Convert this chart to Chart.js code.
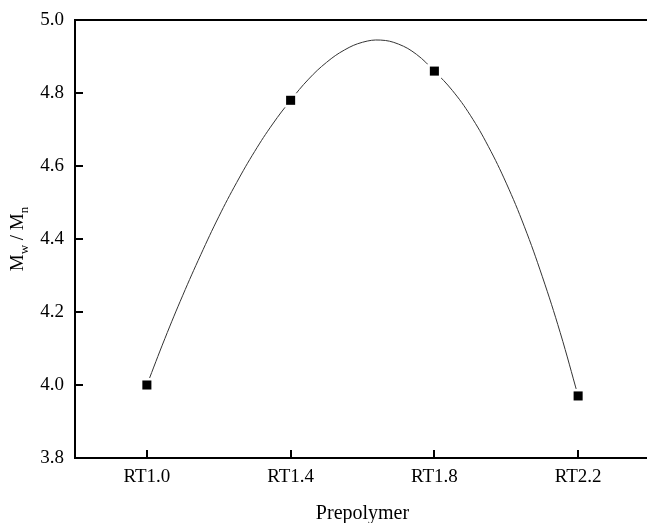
<!DOCTYPE html>
<html>
<head>
<meta charset="utf-8">
<script src="https://cdn.jsdelivr.net/npm/chart.js@4/dist/chart.umd.min.js"></script>
<style>
  html, body { margin: 0; padding: 0; background: #fff; overflow: hidden; }
  #wrap { width: 660px; height: 530px; }
</style>
</head>
<body>
<div id="wrap"><canvas id="chart" width="660" height="530"></canvas></div>
<script>
/* Mw/Mn vs prepolymer, measured points plus the fitted curve */
const categories = ['RT1.0', 'RT1.4', 'RT1.8', 'RT2.2'];
const categoryX = [1.0, 1.4, 1.8, 2.2];
const mwMn = [4.00, 4.78, 4.86, 3.97];

// fitted curve
const curveX = [1.00, 1.05, 1.10, 1.15, 1.20, 1.25, 1.30, 1.35, 1.40, 1.45, 1.50, 1.55,
                1.60, 1.65, 1.70, 1.75, 1.80, 1.85, 1.90, 1.95, 2.00, 2.05, 2.10, 2.15, 2.20];
const curveY = [4.000, 4.127, 4.246, 4.357, 4.461, 4.555, 4.640, 4.715, 4.780, 4.838, 4.884, 4.918,
                4.939, 4.945, 4.934, 4.906, 4.860, 4.807, 4.739, 4.654, 4.553, 4.435, 4.298, 4.144, 3.970];

const yTicks = [3.8, 4.0, 4.2, 4.4, 4.6, 4.8, 5.0];

const FONT = 'Liberation Serif, Times New Roman, serif';

const yTitlePlugin = {
    id: 'yTitle',
    afterDraw(chart) {
        const ctx = chart.ctx;
        const area = chart.chartArea;
        const parts = [
            { t: 'M', size: 19, dy: 0 },
            { t: 'w', size: 13, dy: 5 },
            { t: ' / M', size: 19, dy: 0 },
            { t: 'n', size: 13, dy: 5 },
        ];
        ctx.save();
        let total = 0;
        parts.forEach(p => {
            ctx.font = p.size + 'px ' + FONT;
            p.w = ctx.measureText(p.t).width;
            total += p.w;
        });
        ctx.translate(23, (area.top + area.bottom) / 2);
        ctx.rotate(-Math.PI / 2);
        ctx.fillStyle = '#000';
        ctx.textBaseline = 'alphabetic';
        let x = -total / 2;
        parts.forEach(p => {
            ctx.font = p.size + 'px ' + FONT;
            ctx.fillText(p.t, x, p.dy);
            x += p.w;
        });
        ctx.restore();
    },
};

new Chart(document.getElementById('chart'), {
    type: 'scatter',
    data: {
        datasets: [
            {
                label: 'points',
                data: categoryX.map((x, i) => ({ x, y: mwMn[i] })),
                pointStyle: 'rect',
                pointRadius: 6.4,
                backgroundColor: '#000',
                borderColor: '#000',
                borderWidth: 0,
                order: 0,
            },
            {
                label: 'halo',
                data: categoryX.map((x, i) => ({ x, y: mwMn[i] })),
                pointStyle: 'rect',
                pointRadius: 10,
                backgroundColor: '#fff',
                borderColor: '#fff',
                borderWidth: 0,
                order: 1,
            },
            {
                label: 'fit',
                type: 'line',
                data: curveX.map((x, i) => ({ x, y: curveY[i] })),
                borderColor: '#333',
                borderWidth: 1,
                pointRadius: 0,
                tension: 0.4,
                fill: false,
                order: 2,
            },
        ],
    },
    options: {
        responsive: false,
        animation: false,
        layout: { padding: { left: 0, top: 20, right: 9, bottom: 0 } },
        plugins: {
            legend: { display: false },
            tooltip: { enabled: false },
        },
        scales: {
            x: {
                type: 'linear',
                position: 'bottom',
                min: 0.8,
                max: 2.4,
                afterBuildTicks: (scale) => { scale.ticks = categoryX.map(v => ({ value: v })); },
                afterFit: (scale) => {
                    scale.height = 72;
                    scale.paddingLeft = 0;
                    scale.paddingRight = 0;
                },
                ticks: {
                    color: '#000',
                    padding: 16,
                    maxRotation: 0,
                    font: { family: FONT, size: 19 },
                    callback: (v) => categories[categoryX.indexOf(v)],
                },
                grid: { drawOnChartArea: false, tickLength: -8, color: '#000', lineWidth: 2 },
                border: { display: true, color: '#000', width: 2 },
                title: {
                    display: true,
                    text: 'Prepolymer',
                    color: '#000',
                    font: { family: FONT, size: 20 },
                    padding: { top: 0, bottom: 4 },
                },
            },
            x2: {
                type: 'linear',
                position: 'top',
                min: 0.8,
                max: 2.4,
                afterFit: (scale) => { scale.height = 0; },
                ticks: { display: false },
                grid: { display: false, drawTicks: false },
                border: { display: true, color: '#000', width: 2 },
            },
            y: {
                min: 3.8,
                max: 5.0,
                afterBuildTicks: (scale) => { scale.ticks = yTicks.map(v => ({ value: v })); },
                afterFit: (scale) => {
                    scale.width = 75;
                    scale.paddingTop = 0;
                    scale.paddingBottom = 0;
                },
                ticks: {
                    color: '#000',
                    padding: 19,
                    font: { family: FONT, size: 19 },
                    callback: (v) => v.toFixed(1),
                },
                grid: { drawOnChartArea: false, tickLength: -8, color: '#000', lineWidth: 2 },
                border: { display: true, color: '#000', width: 2 },
            },
        },
    },
    plugins: [yTitlePlugin],
});
</script>
</body>
</html>
